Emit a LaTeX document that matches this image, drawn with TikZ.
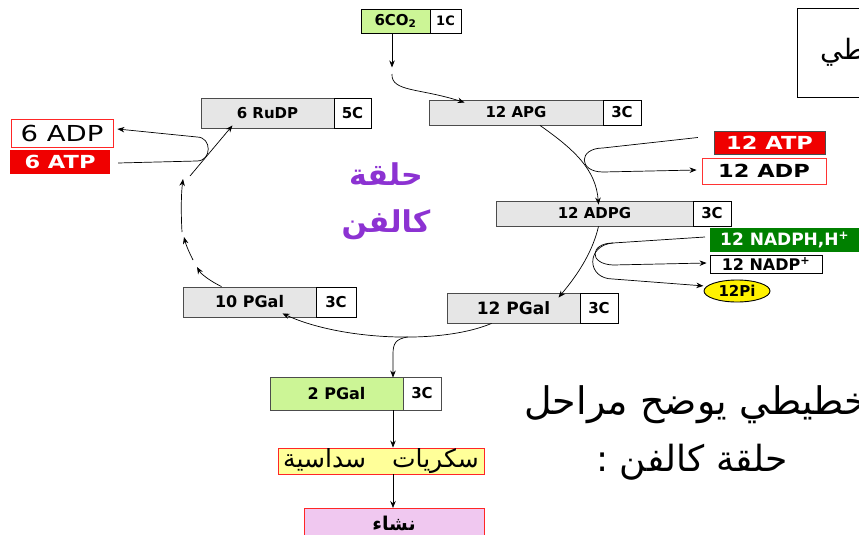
\documentclass[tikz,border=0pt]{standalone}
\usepackage{fontspec}
\setmainfont{DejaVu Sans}
\newfontfamily\widefont[FakeStretch=1.25]{DejaVu Sans}
\newfontfamily\arabicfont[Script=Arabic]{DejaVu Sans}
\TeXXeTstate=1
\usetikzlibrary{arrows.meta,shapes.geometric}
\definecolor{boxgray}{RGB}{230,230,230}
\definecolor{lgreen}{RGB}{204,245,150}
\definecolor{dred}{RGB}{240,0,0}
\definecolor{dgreen}{RGB}{0,128,0}
\definecolor{lyellow}{RGB}{255,255,153}
\definecolor{lpink}{RGB}{240,200,240}
\definecolor{cpurple}{RGB}{140,50,210}
\newcommand\myfs[1]{\fontsize{#1}{#1}\selectfont}
\tikzset{
  gcell/.style={draw=black!70, fill=boxgray, line width=0.9pt, inner sep=0pt, font=\bfseries\myfs{15}},
  wcell/.style={draw=black, fill=white, line width=0.9pt, inner sep=0pt, font=\bfseries\myfs{15}},
  arr/.style={-{Stealth[length=7pt,width=5.5pt]}, line width=0.7pt},
  ln/.style={line width=0.7pt},
  purp/.style={font=\arabicfont\bfseries\myfs{30}, text=cpurple},
}
\begin{document}
\begin{tikzpicture}[x=1pt,y=-1pt]
\useasboundingbox (0,0) rectangle (859,535);
% top right box
\node[draw, line width=1.2pt, minimum width=90, minimum height=89, anchor=north west, inner sep=0] (tr) at (797,8) {};
\node[anchor=west, font=\arabicfont\myfs{28}, inner sep=0] (trt) at (820,52) {\beginR تخطيطي\endR};
% CO2
\node[gcell, fill=lgreen, draw=black, minimum width=69, minimum height=24] (co2) at (395.5,21) {6CO\textsubscript{2}};
\node[wcell, minimum width=31, minimum height=24, font=\bfseries\myfs{13}] (c1c) at (445.5,21) {1C};
% RuDP
\node[gcell, minimum width=133, minimum height=30] (rudp) at (267.5,113) {6 RuDP};
\node[wcell, minimum width=37, minimum height=30] (c5c) at (352.5,113) {5C};
% APG
\node[gcell, minimum width=174, minimum height=25] (apg) at (516,112.5) {12 APG};
\node[wcell, minimum width=38, minimum height=25] (c3a) at (622,112.5) {\raisebox{-3pt}{3C}};
% ATP / ADP 12
\node[fill=dred, draw=black!70, minimum width=111, minimum height=23, inner sep=0, text=white, font=\widefont\bfseries\myfs{18}] (atp12) at (769.5,142.5) {12 ATP};
\node[fill=white, draw=red!80, line width=0.9pt, minimum width=124, minimum height=26, inner sep=0, font=\widefont\bfseries\myfs{18}] (adp12) at (764,171) {12 ADP};
% ADPG
\node[gcell, minimum width=197, minimum height=25] (adpg) at (594.5,213.5) {12 ADPG};
\node[wcell, minimum width=38, minimum height=25] (c3b) at (712,213.5) {\raisebox{-3pt}{3C}};
% NADPH
\node[fill=dgreen, minimum width=160, minimum height=24, inner sep=0, anchor=west] (nadph) at (710,240) {};
\node[anchor=west, text=white, font=\bfseries\myfs{17}, inner sep=0] (nadpht) at (720,240) {12 NADPH,H\textsuperscript{+}};
\node[wcell, minimum width=112, minimum height=18, font=\bfseries\myfs{16}] (nadp) at (766,264) {12 NADP\textsuperscript{+}};
\node[ellipse, draw=black, fill=yellow, line width=0.9pt, minimum width=66, minimum height=22, inner sep=0, font=\bfseries\myfs{15}] (pi) at (737,291) {12Pi};
% PGal
\node[gcell, minimum width=133, minimum height=30, font=\bfseries\myfs{17}] (pgal12) at (513.5,308) {12 PGal};
\node[wcell, minimum width=38, minimum height=30] (c3c) at (599,308) {\raisebox{-4pt}{3C}};
\node[gcell, minimum width=133, minimum height=30, font=\bfseries\myfs{16}] (pgal10) at (249.5,302) {10 PGal};
\node[wcell, minimum width=40, minimum height=30] (c3d) at (336,302) {3C};
\node[gcell, fill=lgreen, draw=black!70, minimum width=133, minimum height=33, font=\bfseries\myfs{16}] (pgal2) at (336.5,393.5) {2 PGal};
\node[wcell, draw=black!70, minimum width=38, minimum height=33] (c3e) at (422,393.5) {\raisebox{-3pt}{3C}};
% sugars and starch
\node[fill=lyellow, draw=red!85, line width=0.9pt, minimum width=206, minimum height=26, inner sep=0, font=\arabicfont\myfs{25}] (sugar) at (381,461) {\beginR سكريات\hspace{26pt}سداسية\endR};
\node[fill=lpink, draw=red!85, line width=0.9pt, minimum width=180, minimum height=34, inner sep=0, anchor=north] (starch) at (394,508) {};
\node[font=\arabicfont\bfseries\myfs{19}, inner sep=0] (starcht) at (394,523) {\beginR نشاء\endR};
% ATP / ADP 6
\node[fill=white, draw=red!85, line width=0.9pt, minimum width=102, minimum height=28, inner sep=0, font=\widefont\myfs{22}] (adp6) at (62,133) {6 ADP};
\node[fill=dred, minimum width=100, minimum height=24, inner sep=0, text=white, font=\widefont\bfseries\myfs{18}] (atp6) at (60,162) {6 ATP};
% purple title
\node[purp] (p1) at (386,174) {\beginR حلقة\endR};
\node[purp] (p2) at (386,225) {\beginR كالفن\endR};
% handwritten text
\node[anchor=west, font=\arabicfont\myfs{38}, inner sep=0] (h1) at (524,405) {\beginR تخطيطي يوضح مراحل\endR};
\node[font=\arabicfont\myfs{36}, inner sep=0] (h2) at (692,462) {\beginR حلقة كالفن :\endR};
% connectors
\draw[arr] ([xshift=-3.5]co2.south) -- ++(0,34);
\coordinate (k1) at (392,74);
\draw[arr] (k1) .. controls (391,92) and (420,88) .. ([xshift=36,yshift=-3]apg.north west);
\draw[arr] ([xshift=24]apg.south) .. controls (575,150) and (596,170) .. ([xshift=4,yshift=-4]adpg.north);
\draw[arr] ([xshift=-16,yshift=5]atp12.west) -- (603,148) .. controls (578,148) and (578,172) .. (603,172) -- ([xshift=-5,yshift=1]adp12.west);
\draw[arr] ([xshift=4]adpg.south) .. controls (593,250) and (580,272) .. ([xshift=45,yshift=-5]pgal12.north);
\draw[arr] ([xshift=-5,yshift=3]nadph.west) -- (613,243) .. controls (590,243) and (588,264) .. (613,265) -- ([xshift=-3,yshift=1]nadp.west);
\draw[arr] (613,243) .. controls (586,245) and (586,279) .. (613,279) -- ([xshift=-10,yshift=-3]pi.north west);
\draw[arr] ([xshift=-22]pgal12.south) .. controls (440,345) and (340,340) .. coordinate[pos=0.42] (br) ([xshift=33,yshift=4]pgal10.south);
\draw[arr] (br) .. controls (396,339) and (393,343) .. (393,354) -- ([xshift=56.5,yshift=-1]pgal2.north);
\draw[arr] ([xshift=-28]pgal10.north) .. controls (210,281) and (201,274) .. (197,267);
\coordinate (k2) at (193,260);
\draw[arr] (k2) .. controls (189,252) and (186,245) .. (184,237);
\coordinate (k3) at (182,232);
\draw[arr] (k3) .. controls (181,215) and (181,195) .. (183,179);
\coordinate (k4) at (190,176);
\draw[arr] (k4) -- ([xshift=-35,yshift=3]rudp.south);
\draw[arr] ([xshift=8,yshift=-1]atp6.east) -- (197,161) .. controls (212,161) and (212,137) .. (197,137) -- ([xshift=4,yshift=4]adp6.east);
\draw[arr] ([xshift=56.5]pgal2.south) -- ([xshift=12]sugar.north);
\draw[arr] ([xshift=12]sugar.south) -- ([xshift=-1]starch.north);
\end{tikzpicture}
\end{document}
